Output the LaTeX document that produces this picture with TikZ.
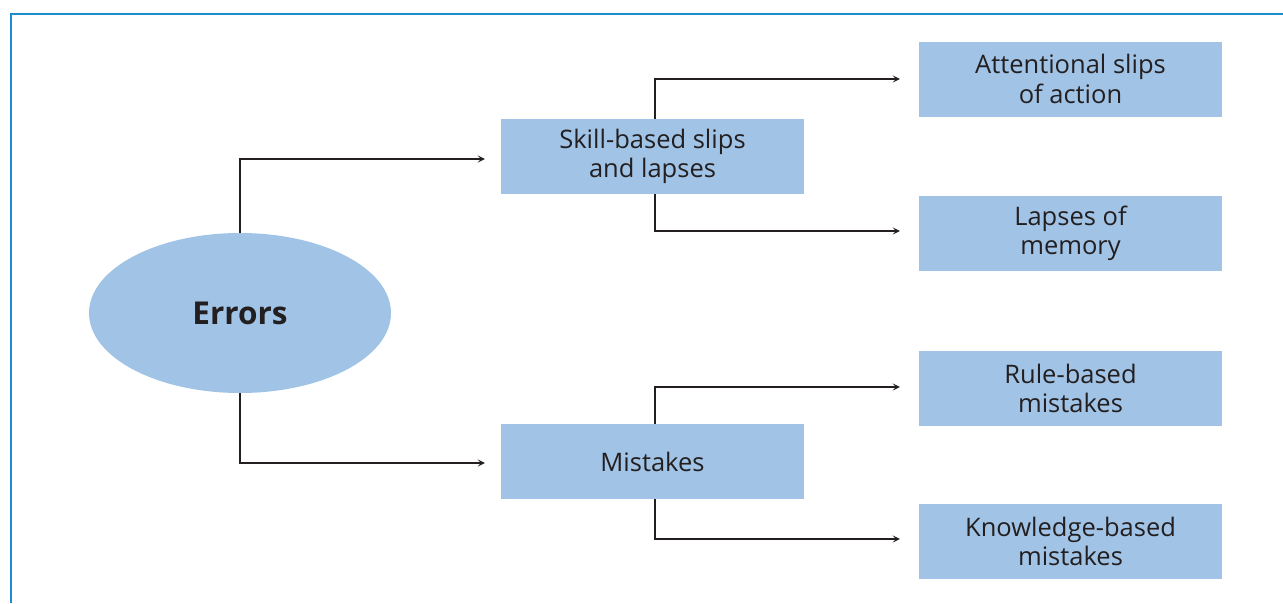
\documentclass[tikz,border=0pt]{standalone}
\usepackage{fontspec}
\setmainfont{Open Sans}
\usetikzlibrary{arrows.meta,shapes.geometric}
\definecolor{boxfill}{HTML}{A0C3E6}
\definecolor{ink}{HTML}{231F20}
\definecolor{frame}{HTML}{1E8BD0}
\begin{document}
\begin{tikzpicture}[x=1pt,y=-1pt,
  catbox/.style={fill=boxfill,draw=none,minimum width=303pt,minimum height=75pt,align=center,font=\fontsize{25.5}{29.5}\selectfont,text=ink,inner sep=0pt},
  conn/.style={draw=ink,line width=1.2pt,-{Stealth[length=7pt,width=7pt,inset=3pt]}}]
\useasboundingbox (0,0) rectangle (1283,603);
\draw[frame,line width=2pt] (11,603) -- (11,14) -- (1283,14);
\node[ellipse,fill=boxfill,minimum width=302pt,minimum height=160pt,inner sep=0pt,font=\fontsize{31.5}{36}\selectfont\bfseries,text=ink] (e) at (240,313) {Errors};
\node[catbox] (s) at (652.5,156.5) {Skill-based slips\\and lapses};
\node[catbox] (m) at (652.5,461.5) {Mistakes};
\node[catbox] (a) at (1070.5,79) {Attentional slips\\of action};
\node[catbox] (l) at (1070.5,233.5) {Lapses of\\memory};
\node[catbox] (r) at (1070.5,388.5) {Rule-based\\mistakes};
\node[catbox] (k) at (1070.5,541.5) {Knowledge-based\\mistakes};
\draw[conn] (e.north) |- ([xshift=-16pt,yshift=-2.5pt]s.west);
\draw[conn] (e.south) |- ([xshift=-16pt,yshift=-1.5pt]m.west);
\draw[conn] ([xshift=2.5pt]s.north) |- ([xshift=-19pt]a.west);
\draw[conn] ([xshift=2.5pt]s.south) |- ([xshift=-19pt,yshift=2.5pt]l.west);
\draw[conn] ([xshift=2.5pt]m.north) |- ([xshift=-19pt,yshift=1.5pt]r.west);
\draw[conn] ([xshift=2.5pt]m.south) |- ([xshift=-19pt,yshift=2.5pt]k.west);
\end{tikzpicture}
\end{document}
